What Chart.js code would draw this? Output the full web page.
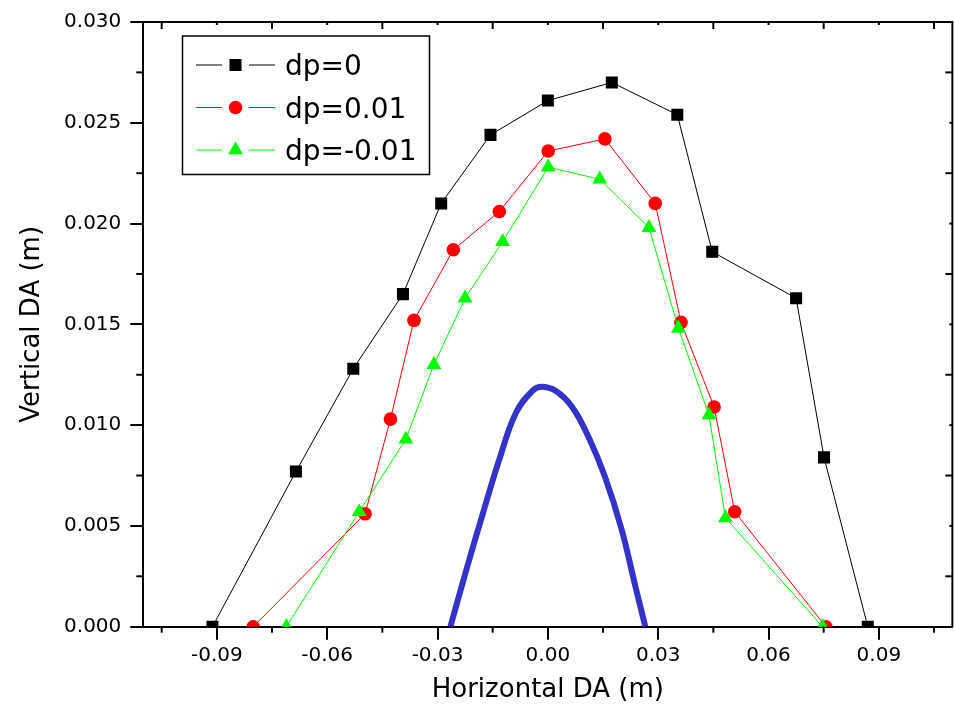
<!DOCTYPE html>
<html>
<head>
<meta charset="utf-8">
<script src="https://cdn.jsdelivr.net/npm/chart.js@4.4.1/dist/chart.umd.min.js"></script>
<style>
  html, body { margin: 0; padding: 0; background: #fff; overflow: hidden; }
  /* a little wider than the window: the right frame sits just off-screen like the original crop */
  #wrap { width: 961px; height: 720px; }
</style>
</head>
<body>
<div id="wrap"><canvas id="chart" width="961" height="720"></canvas></div>
<script>
// tick values
const xTicks = [-0.09, -0.06, -0.03, 0, 0.03, 0.06, 0.09];
const yTicks = [0, 0.005, 0.010, 0.015, 0.020, 0.025, 0.030];

const seriesNames = ['dp=0', 'dp=0.01', 'dp=-0.01'];

// dp=0 (black squares)
const dp0X = [-0.0912, -0.0685, -0.0529, -0.0394, -0.0290, -0.0156, 0.0000, 0.0174, 0.0352, 0.0447, 0.0675, 0.0751, 0.0870];
const dp0Y = [0.0000, 0.0077, 0.0128, 0.0165, 0.0210, 0.0244, 0.0261, 0.0270, 0.0254, 0.0186, 0.0163, 0.0084, 0.0000];

// dp=0.01 (red circles)
const dp1X = [-0.0801, -0.0497, -0.0428, -0.0364, -0.0257, -0.0132, 0.0001, 0.0155, 0.0292, 0.0362, 0.0452, 0.0508, 0.0756];
const dp1Y = [0.0000, 0.0056, 0.0103, 0.0152, 0.0187, 0.0206, 0.0236, 0.0242, 0.0210, 0.0151, 0.0109, 0.0057, 0.0000];

// dp=-0.01 (green triangles)
const dpm1X = [-0.0711, -0.0513, -0.0386, -0.0310, -0.0225, -0.0123, 0.0001, 0.0141, 0.0275, 0.0355, 0.0438, 0.0483, 0.0747];
const dpm1Y = [0.0000, 0.0057, 0.0093, 0.0130, 0.0163, 0.0191, 0.0228, 0.0222, 0.0198, 0.0148, 0.0105, 0.0054, 0.0000];

// thick blue curve
const daX = [-0.0265, -0.0222, -0.0177, -0.0132, -0.0087, -0.0042, -0.0017, 0.0021, 0.0066, 0.0111, 0.0156, 0.0201, 0.0238, 0.0265];
const daY = [0.0000, 0.0028, 0.0056, 0.0083, 0.0106, 0.0117, 0.0119, 0.0117, 0.0109, 0.0094, 0.0074, 0.0048, 0.0020, 0.0000];

const FONT = 'DejaVu Sans';
Chart.defaults.font.family = FONT;
Chart.defaults.color = '#000';

function toPts(xs, ys) {
    return xs.map((x, i) => ({ x: x, y: ys[i] }));
}

function markerSet(name, xs, ys, color, style, radius, order) {
    return {
        label: name,
        data: toPts(xs, ys),
        showLine: true,
        borderColor: color,
        backgroundColor: color,
        borderWidth: 1,
        pointStyle: style,
        pointRadius: radius,
        pointHoverRadius: radius,
        pointBorderWidth: 0,
        pointBackgroundColor: color,
        order: order,
        clip: 0
    };
}

const datasets = [
    markerSet(seriesNames[0], dp0X, dp0Y, '#000000', 'rect', 8.5, 4),
    markerSet(seriesNames[1], dp1X, dp1Y, '#ff0000', 'circle', 6.8, 3),
    markerSet(seriesNames[2], dpm1X, dpm1Y, '#00ff00', 'triangle', 8.6, 2),
    {
        label: 'DA',
        data: toPts(daX, daY),
        showLine: true,
        borderColor: '#3333cc',
        borderWidth: 6,
        pointRadius: 0,
        pointHoverRadius: 0,
        tension: 0.4,
        order: 5,
        clip: 0
    }
];

// top/right frame, minor ticks and the boxed legend
const framePlugin = {
    id: 'frame',
    afterDraw(chart) {
        const { ctx, chartArea: a, scales: { x, y } } = chart;
        ctx.save();
        ctx.strokeStyle = '#000';
        ctx.lineWidth = 2;
        ctx.beginPath();
        ctx.moveTo(a.left, a.top);
        ctx.lineTo(a.right, a.top);
        ctx.lineTo(a.right, a.bottom);
        ctx.stroke();

        const tick = (x1, y1, x2, y2) => {
            ctx.beginPath();
            ctx.moveTo(x1, y1);
            ctx.lineTo(x2, y2);
            ctx.stroke();
        };
        for (let i = -7; i <= 7; i++) {
            const px = x.getPixelForValue(i * 0.015);
            const odd = Math.abs(i % 2) === 1;
            if (odd) tick(px, a.bottom, px, a.bottom + 6);
            tick(px, a.top, px, a.top + (odd ? 7 : 3));
        }
        for (let i = 1; i < 12; i++) {
            const py = y.getPixelForValue(i * 0.0025);
            const odd = i % 2 === 1;
            if (odd) tick(a.left, py, a.left - 7, py);
            tick(a.right, py, a.right - (odd ? 7 : 3), py);
        }

        // legend
        ctx.fillStyle = '#fff';
        ctx.fillRect(182.5, 36, 247, 138.5);
        ctx.lineWidth = 1.5;
        ctx.strokeRect(182.5, 36, 247, 138.5);
        const rows = [65, 107.5, 150];
        for (let i = 0; i < 3; i++) {
            const ds = chart.data.datasets[i];
            const ry = rows[i];
            ctx.strokeStyle = ds.borderColor;
            ctx.lineWidth = 1;
            tick(196, ry, 222, ry);
            tick(249, ry, 275, ry);
            ctx.fillStyle = ds.backgroundColor;
            Chart.helpers.drawPoint(ctx, {
                pointStyle: ds.pointStyle, radius: ds.pointRadius, rotation: 0, borderWidth: 0
            }, 235.5, ry);
            ctx.fillStyle = '#000';
            ctx.font = '28px "' + FONT + '"';
            ctx.textAlign = 'left';
            ctx.textBaseline = 'alphabetic';
            ctx.fillText(ds.label, 285, ry + 10);
        }
        ctx.restore();
    }
};

new Chart(document.getElementById('chart'), {
    type: 'scatter',
    data: { datasets: datasets },
    plugins: [framePlugin],
    options: {
        responsive: false,
        animation: false,
        devicePixelRatio: 1,
        events: [],
        layout: { padding: { top: 22, right: 0, left: 0, bottom: 0 } },
        plugins: {
            legend: { display: false },
            tooltip: { enabled: false }
        },
        scales: {
            x: {
                type: 'linear',
                min: -0.11,
                max: 0.11,
                z: 1,
                afterBuildTicks: s => { s.ticks = xTicks.map(v => ({ value: v })); },
                afterFit: s => {
                    s.height = 93.3;
                    s.paddingLeft = 0;
                    s.paddingRight = 0;
                },
                ticks: {
                    callback: v => v.toFixed(2),
                    font: { size: 20 },
                    color: '#000',
                    padding: 4,
                    maxRotation: 0,
                    autoSkip: false
                },
                grid: { drawOnChartArea: false, tickLength: 13, color: '#000', lineWidth: 2 },
                border: { color: '#000', width: 2 },
                title: {
                    display: true,
                    text: 'Horizontal DA (m)',
                    font: { size: 26 },
                    color: '#000',
                    padding: { top: 0, bottom: 14 }
                }
            },
            y: {
                type: 'linear',
                min: 0,
                max: 0.03,
                z: 1,
                afterBuildTicks: s => { s.ticks = yTicks.map(v => ({ value: v })); },
                afterFit: s => { s.width = 143.3; },
                ticks: {
                    callback: v => v.toFixed(3),
                    font: { size: 20 },
                    color: '#000',
                    padding: 9
                },
                grid: { drawOnChartArea: false, tickLength: 13, color: '#000', lineWidth: 2 },
                border: { color: '#000', width: 2 },
                title: {
                    display: true,
                    text: 'Vertical DA (m)',
                    font: { size: 26 },
                    color: '#000',
                    padding: { top: 17, bottom: 0 }
                }
            }
        }
    }
});
</script>
</body>
</html>
